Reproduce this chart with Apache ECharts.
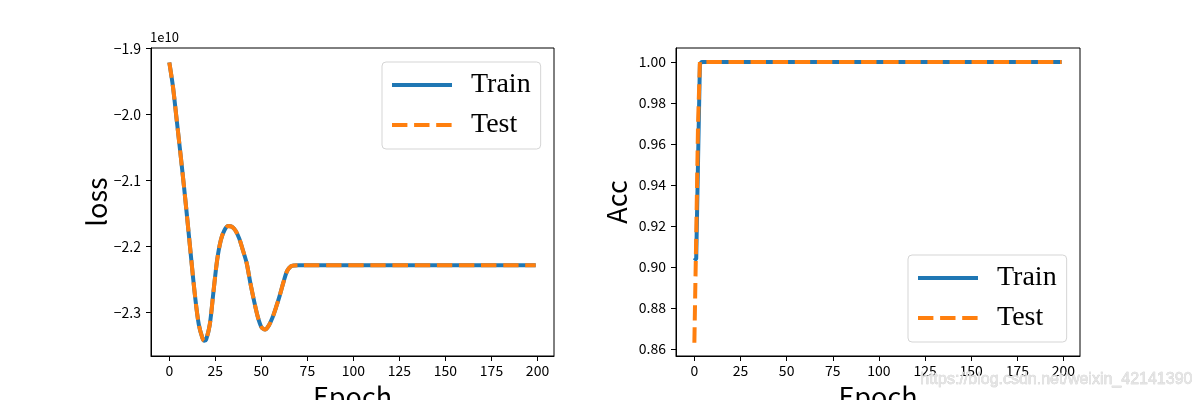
<!DOCTYPE html>
<html><head><meta charset="utf-8">
<script src="https://cdn.jsdelivr.net/npm/echarts@6/dist/echarts.min.js"></script>
<style>html,body{margin:0;padding:0;background:#fff}#c{width:1200px;height:400px}</style>
</head><body><div id="c"></div>
<script>
// ---- data (loss in units of 1e10) ----
const lossEpochs = [0,2,4,6,8,10,12,14,16,18,19,20,22,24,26,28,30,32,34,36,38,40,42,44,46,48,50,52,54,56,58,60,62,64,66,68,70,199];
const trainLoss = [-1.921,-1.958,-2.008,-2.058,-2.110,-2.165,-2.222,-2.276,-2.318,-2.339,-2.343,-2.341,-2.318,-2.268,-2.220,-2.190,-2.175,-2.169,-2.170,-2.176,-2.188,-2.206,-2.225,-2.255,-2.282,-2.306,-2.322,-2.326,-2.320,-2.308,-2.292,-2.274,-2.254,-2.237,-2.230,-2.2287,-2.2284,-2.2283];
const testLoss  = [-1.921,-1.958,-2.008,-2.058,-2.110,-2.165,-2.222,-2.276,-2.318,-2.339,-2.343,-2.341,-2.318,-2.268,-2.220,-2.190,-2.175,-2.169,-2.170,-2.176,-2.188,-2.206,-2.225,-2.255,-2.282,-2.306,-2.322,-2.326,-2.320,-2.308,-2.292,-2.274,-2.254,-2.237,-2.230,-2.2287,-2.2284,-2.2283];
const trainAccEpochs = [0,1,2,3,4,199];
const trainAcc = [0.903,0.904,0.952,0.999,1.0,1.0];
const testAccEpochs = [0,1,2,3,199];
const testAcc = [0.863,0.915,0.970,1.0,1.0];
const xTicks = [0,25,50,75,100,125,150,175,200];
const lossTicks = [-2.3,-2.2,-2.1,-2.0,-1.9];
const accTicks = [0.86,0.88,0.90,0.92,0.94,0.96,0.98,1.00];
const lossScaleLabel = '1e10';
const seriesNames = ['Train','Test'];
const watermark = 'https://blog.csdn.net/weixin_42141390';

const pairs = (xs, ys) => xs.map((x, i) => [x, ys[i]]);
const BLUE = '#1f77b4', ORANGE = '#ff7f0e';
const SANS = '"Noto Sans CJK SC", "Liberation Sans", sans-serif';
const DASH = [15.4, 6.7];

function xAxisCfg(gi) {
  return {
    type: 'value', gridIndex: gi, min: -9.95, max: 208.95,
    name: 'Epoch', nameLocation: 'middle', nameGap: 22,
    nameTextStyle: {fontFamily: SANS, fontSize: 27, color: '#000'},
    axisLine: {show: true, onZero: false, lineStyle: {color: '#000', width: 1}},
    axisTick: {show: true, customValues: xTicks, length: 5, lineStyle: {color: '#000'}},
    axisLabel: {customValues: xTicks, margin: 8, fontFamily: SANS, fontSize: 14, color: '#000'},
    splitLine: {show: false}
  };
}
function yAxisCfg(gi, name, ticks, min, max, fmt, gap) {
  return {
    type: 'value', gridIndex: gi, min: min, max: max,
    name: name, nameLocation: 'middle', nameGap: gap,
    nameTextStyle: {fontFamily: SANS, fontSize: 27, color: '#000'},
    axisLine: {show: true, onZero: false, lineStyle: {color: '#000', width: 1}},
    axisTick: {show: true, customValues: ticks, length: 5, lineStyle: {color: '#000'}},
    axisLabel: {customValues: ticks, margin: 10, fontFamily: SANS, fontSize: 14, color: '#000', formatter: fmt},
    splitLine: {show: false}
  };
}
function legendCfg(left, top) {
  return {
    data: seriesNames, left: left, top: top, orient: 'vertical',
    itemWidth: 60, itemHeight: 14, itemGap: 12,
    padding: [9, 10, 10, 8],
    backgroundColor: 'rgba(255,255,255,0.8)', borderColor: '#d5d5d5', borderWidth: 1, borderRadius: 4,
    selectedMode: false,
    itemStyle: {opacity: 0},
    lineStyle: {width: 4},
    textStyle: {fontFamily: '"Liberation Serif", serif', fontSize: 28, lineHeight: 28, color: '#000', padding: [0, 0, 0, 14]}
  };
}
function lineSeries(name, xi, data, color, dashed, smooth) {
  return {
    name: name, type: 'line', xAxisIndex: xi, yAxisIndex: xi, data: data,
    symbol: 'none', showSymbol: false, smooth: smooth, animation: false,
    lineStyle: {color: color, width: 4, type: dashed ? DASH : 'solid'},
    itemStyle: {color: color}
  };
}

const chart = echarts.init(document.getElementById('c'), null, {renderer: 'canvas'});
chart.setOption({
  animation: false,
  backgroundColor: '#fff',
  title: {text: lossScaleLabel, left: 150, top: 31, padding: 0,
          textStyle: {fontFamily: SANS, fontSize: 13, fontWeight: 'normal', color: '#000'}},
  grid: [
    {left: 151, top: 48, width: 403, height: 308, show: true, borderColor: '#000', borderWidth: 1, outerBoundsMode: 'none', containLabel: false},
    {left: 676, top: 48, width: 404, height: 308, show: true, borderColor: '#000', borderWidth: 1, outerBoundsMode: 'none', containLabel: false}
  ],
  xAxis: [xAxisCfg(0), xAxisCfg(1)],
  yAxis: [
    yAxisCfg(0, 'loss', lossTicks, -2.366, -1.899, v => (v < 0 ? '\u2212' : '') + Math.abs(v).toFixed(1), 40),
    yAxisCfg(1, 'Acc', accTicks, 0.8565, 1.0068, v => v.toFixed(2), 46)
  ],
  legend: [legendCfg(382, 62), legendCfg(908, 255)],
  series: [
    lineSeries(seriesNames[0], 0, pairs(lossEpochs, trainLoss), BLUE, false, 0.3),
    lineSeries(seriesNames[1], 0, pairs(lossEpochs, testLoss), ORANGE, true, 0.3),
    lineSeries(seriesNames[0], 1, pairs(trainAccEpochs, trainAcc), BLUE, false, false),
    lineSeries(seriesNames[1], 1, pairs(testAccEpochs, testAcc), ORANGE, true, false)
  ],
  graphic: [{
    type: 'text', left: 920, top: 371, z: 100,
    style: {text: watermark, font: '16px "Liberation Sans", sans-serif', fill: '#e4e4e4', stroke: '#c8c8c8', lineWidth: 0.5}
  }]
});
</script></body></html>
